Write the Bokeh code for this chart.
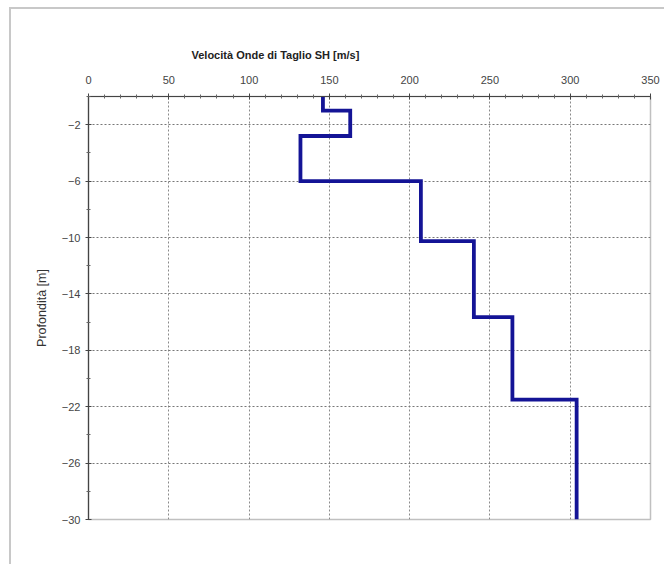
from bokeh.plotting import figure
from bokeh.models import FixedTicker, Title
from bokeh.embed import file_html
from bokeh.resources import INLINE

# Layer data (velocity in m/s, depth boundaries in m)
velocities = [146, 163, 132, 207, 240, 264, 304]
layer_tops = [0.0, -1.0, -2.8, -6.0, -10.25, -15.65, -21.5]
layer_bottoms = [-1.0, -2.8, -6.0, -10.25, -15.65, -21.5, -30.0]

x_ticks = [0, 50, 100, 150, 200, 250, 300, 350]
x_minor = [v for v in range(0, 351, 10) if v % 50 != 0]
y_ticks = [-2, -6, -10, -14, -18, -22, -26, -30]
y_minor = [0, -4, -8, -12, -16, -20, -24, -28]

title_text = "Velocità Onde di Taglio SH [m/s]"
y_label = "Profondità [m]"

FONT = "Liberation Sans"

xs, ys = [], []
for v, t, b in zip(velocities, layer_tops, layer_bottoms):
    xs += [v, v]
    ys += [t, b]

p = figure(width=655, height=557, x_range=(0, 350), y_range=(-30, 0),
           x_axis_location="above", output_backend="svg", toolbar_location=None,
           min_border_left=77, min_border_top=87, min_border_right=16, min_border_bottom=47)
p.styles = {"border-left": "2px solid #c8c8c8", "border-top": "2px solid #c8c8c8",
            "margin-left": "9px", "margin-top": "7px"}

p.background_fill_color = "white"
p.border_fill_color = "white"
p.outline_line_color = "#c0c0c0"
p.outline_line_width = 1.5

t = Title(text=title_text, align="left", offset=103, text_font=FONT,
          text_font_size="11px", text_font_style="bold", text_color="#222222", standoff=23)
p.add_layout(t, "above")

for ax in (p.xaxis[0], p.yaxis[0]):
    ax.axis_line_color = "#444444"
    ax.axis_line_width = 1.2
    ax.major_tick_line_color = "#444444"
    ax.minor_tick_line_color = "#666666"
    ax.major_tick_in = 3
    ax.major_tick_out = 3
    ax.minor_tick_in = 2
    ax.minor_tick_out = 2
    ax.major_label_text_font = FONT
    ax.major_label_text_font_size = "11px"
    ax.major_label_text_color = "#444444"

p.xaxis.ticker = FixedTicker(ticks=x_ticks, minor_ticks=x_minor)
p.yaxis.ticker = FixedTicker(ticks=y_ticks, minor_ticks=y_minor)
p.xaxis.major_label_standoff = 10
p.yaxis.major_label_standoff = 5
p.yaxis.axis_label = y_label
p.yaxis.axis_label_text_font = FONT
p.yaxis.axis_label_text_font_size = "12.5px"
p.yaxis.axis_label_text_font_style = "normal"
p.yaxis.axis_label_text_color = "#333333"
p.yaxis.axis_label_standoff = 10

p.xgrid.grid_line_color = "#8a8a8a"
p.xgrid.grid_line_dash = "2 2"
p.xgrid.grid_line_width = 1
p.ygrid.grid_line_color = "#777777"
p.ygrid.grid_line_dash = "2 2"
p.ygrid.grid_line_width = 1

p.line(xs, ys, line_color="#141496", line_width=3.8, line_join="miter")

open("out.html", "w").write(file_html(p, INLINE))
